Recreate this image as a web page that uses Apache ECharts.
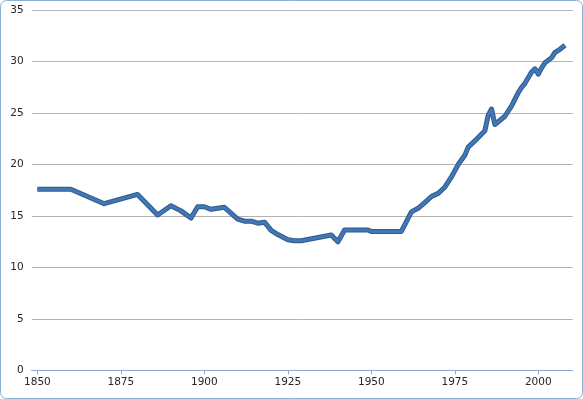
<!DOCTYPE html>
<html>
<head>
<meta charset="utf-8">
<script src="https://cdn.jsdelivr.net/npm/echarts@6/dist/echarts.min.js"></script>
<style>
html,body{margin:0;padding:0;background:#fff;}
#chart{width:583px;height:399px;}
</style>
</head>
<body>
<div id="chart"></div>
<script>
var years = [1850,1860,1870,1880,1886,1890,1893,1896,1898,1900,1902,1906,1910,1912,1914,1916,1918,1920,1922,1925,1927,1929,1938,1940,1942,1949,1950,1959,1962,1964,1966,1968,1970,1972,1974,1976,1978,1979,1981,1984,1985,1986,1987,1990,1992,1994,1995,1996,1998,1999,2000,2001,2002,2004,2005,2006,2008];
var values = [17.6,17.6,16.2,17.1,15.1,16.0,15.5,14.8,15.9,15.9,15.65,15.85,14.7,14.5,14.5,14.3,14.4,13.6,13.2,12.7,12.6,12.6,13.15,12.5,13.65,13.65,13.5,13.5,15.4,15.75,16.3,16.9,17.2,17.8,18.8,20.0,20.9,21.7,22.3,23.3,24.8,25.4,23.9,24.7,25.7,27.0,27.5,27.9,29.0,29.3,28.8,29.4,29.9,30.4,30.9,31.1,31.6];
var xTicks = [1850,1875,1900,1925,1950,1975,2000];
var yTicks = [0,5,10,15,20,25,30,35];

var pts = years.map(function(y,i){return [y, values[i]];});
var chart = echarts.init(document.getElementById('chart'), null, {renderer:'canvas'});
chart.setOption({
  animation:false,
  backgroundColor:'#ffffff',
  textStyle:{fontFamily:'DejaVu Sans'},
  graphic:[{type:'rect',shape:{x:0.5,y:0.5,width:582,height:398,r:6},style:{fill:'none',stroke:'#8eb0d8',lineWidth:1},silent:true}],
  grid:{left:31.7,right:10.3,top:10.3,bottom:28.7,containLabel:false},
  xAxis:{
    type:'value',min:1848.3,max:2010.3,
    axisLine:{show:true,lineStyle:{color:'#8eaad2',width:1}},
    axisTick:{show:true,length:4,inside:false,customValues:xTicks,lineStyle:{color:'#8eaad2'}},
    axisLabel:{customValues:xTicks,color:'#262626',fontSize:10.5,fontFamily:'DejaVu Sans',margin:6,
      formatter:function(v){return String(Math.round(v));}},
    splitLine:{show:false}
  },
  yAxis:{
    type:'value',min:yTicks[0],max:yTicks[yTicks.length-1],interval:5,
    axisLine:{show:false},axisTick:{show:false},
    axisLabel:{color:'#262626',fontSize:10.5,fontFamily:'DejaVu Sans',margin:8},
    splitLine:{show:true,lineStyle:{color:'#b3b3b3',width:1}}
  },
  series:[
    {type:'line',data:pts,showSymbol:false,lineStyle:{color:'#2f5b8c',width:5,cap:'butt',join:'round'},z:2},
    {type:'line',data:pts,showSymbol:false,lineStyle:{color:'#4177b5',width:3,cap:'butt',join:'round'},z:3}
  ]
});
</script>
</body>
</html>
